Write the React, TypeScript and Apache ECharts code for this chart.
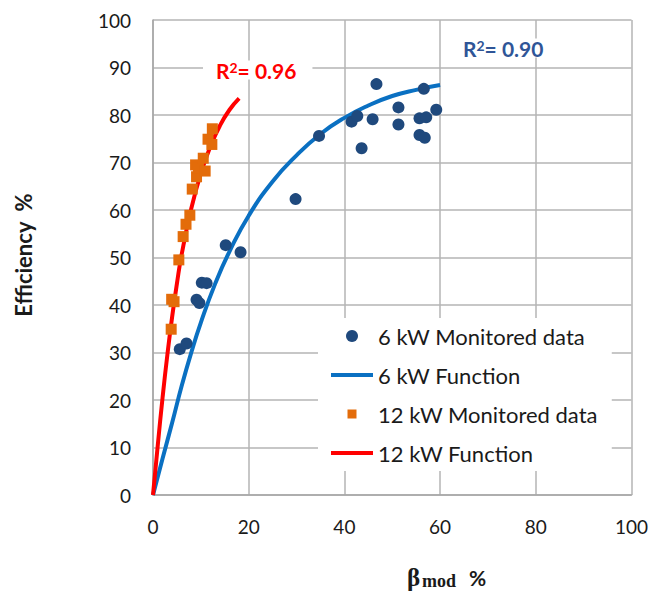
import React, { useEffect, useRef } from "react";
import * as echarts from "echarts";

// 6 kW monitored data
const kw6X = [5.6, 7.0, 9.1, 9.7, 10.2, 11.2, 15.2, 18.3, 29.8, 34.7, 41.5, 42.7, 46.7, 45.9, 43.6, 51.3, 51.3, 56.6, 55.7, 57.1, 59.2, 55.7, 56.8];
const kw6Y = [30.7, 31.9, 41.1, 40.4, 44.7, 44.6, 52.6, 51.1, 62.3, 75.6, 78.6, 79.8, 86.5, 79.1, 73.0, 81.6, 78.0, 85.5, 79.3, 79.5, 81.1, 75.8, 75.2];

// 12 kW monitored data
const kw12X = [3.8, 3.9, 4.4, 5.4, 6.3, 6.9, 7.7, 8.2, 9.1, 8.9, 9.5, 10.9, 10.5, 11.5, 12.3, 12.4];
const kw12Y = [34.9, 41.2, 40.7, 49.5, 54.4, 57.0, 58.9, 64.4, 67.0, 69.5, 68.8, 68.2, 70.9, 74.9, 73.8, 77.1];

// 6 kW function
const fn6X = [0, 2, 4, 6, 8, 10, 13, 16, 20, 25, 30, 35, 40, 45, 50, 55, 60];
const fn6Y = [0, 7.7, 15.2, 23, 30, 36.3, 44.5, 51.3, 58.8, 66, 71.5, 76, 79.4, 82, 84, 85.3, 86.3];

// 12 kW function
const fn12X = [0, 1, 2, 3, 4, 5, 6, 8, 10, 12, 14, 16, 18];
const fn12Y = [0, 10.5, 20.5, 29.5, 37.5, 44.5, 50.7, 60.3, 67.7, 73.4, 77.8, 81.1, 83.5];

const seriesNames = ["6 kW Monitored data", "6 kW Function", "12 kW Monitored data", "12 kW Function"];
const r2Values = ["0.96", "0.90"];
const yTitle = "Efficiency  %";

const zip = (xs: number[], ys: number[]) => xs.map((x, i) => [x, ys[i]]);

export default function App() {
  const ref = useRef<HTMLDivElement>(null);
  useEffect(() => {
    if (!ref.current) return;
    const chart = echarts.init(ref.current, undefined, { renderer: "svg" });
    const font = "Lato, 'Open Sans', sans-serif";
    const gridColor = "#b4b4b4";
    const lineIcon = "path://M0,0M42,12M0,4.1h42v3.8h-42z";
    const r2Text = (v: string, color: string) => ({
      text: `{a|R}{s|2}{a|= ${v}}`,
      rich: {
        a: { fontSize: 21, fontWeight: "bold", fontFamily: font, fill: color, lineHeight: 19 },
        s: { fontSize: 14, fontWeight: "bold", fontFamily: font, fill: color, lineHeight: 9, verticalAlign: "top" },
      },
      backgroundColor: "#ffffff",
      padding: [0, 16, 0, 13],
      align: "left",
      verticalAlign: "middle",
    });
    chart.setOption({
      animation: false,
      backgroundColor: "#ffffff",
      grid: { left: 153, right: 19, top: 20, bottom: 99, containLabel: false },
      xAxis: {
        type: "value",
        min: 0,
        max: 100,
        interval: 20,
        axisLine: { show: true, lineStyle: { color: "#a6a6a6", width: 1.5 } },
        axisTick: { show: false },
        splitLine: { show: true, lineStyle: { color: gridColor, width: 1.5 } },
        axisLabel: { color: "#1a1a1a", fontSize: 19, fontFamily: font, margin: 22 },
      },
      yAxis: {
        type: "value",
        min: 0,
        max: 100,
        interval: 10,
        axisLine: { show: true, lineStyle: { color: "#a6a6a6", width: 1.5 } },
        axisTick: { show: false },
        splitLine: { show: true, lineStyle: { color: gridColor, width: 1.5 } },
        axisLabel: { color: "#1a1a1a", fontSize: 19, fontFamily: font, margin: 22 },
      },
      legend: {
        orient: "vertical",
        left: 318,
        top: 318,
        padding: [7, 14, 7, 13],
        backgroundColor: "#ffffff",
        itemWidth: 42,
        itemHeight: 12,
        itemGap: 17,
        textStyle: { fontSize: 22, fontFamily: font, color: "#1a1a1a", lineHeight: 22 },
        data: [
          { name: seriesNames[0], icon: "circle" },
          { name: seriesNames[1], icon: lineIcon },
          { name: seriesNames[2], icon: "path://M0,0M42,12M16.5,1.5h9v9h-9z" },
          { name: seriesNames[3], icon: lineIcon },
        ],
      },
      series: [
        {
          name: seriesNames[1],
          type: "line",
          data: zip(fn6X, fn6Y),
          smooth: true,
          symbol: "none",
          lineStyle: { color: "#0a70c2", width: 4 },
          itemStyle: { color: "#0a70c2" },
          z: 2,
        },
        {
          name: seriesNames[3],
          type: "line",
          data: zip(fn12X, fn12Y),
          smooth: true,
          symbol: "none",
          lineStyle: { color: "#ff0000", width: 4 },
          itemStyle: { color: "#ff0000" },
          z: 2,
        },
        {
          name: seriesNames[0],
          type: "scatter",
          data: zip(kw6X, kw6Y),
          symbol: "circle",
          symbolSize: 12,
          itemStyle: { color: "#1f497d", opacity: 1 },
          z: 3,
        },
        {
          name: seriesNames[2],
          type: "scatter",
          data: zip(kw12X, kw12Y),
          symbol: "rect",
          symbolSize: 11,
          itemStyle: { color: "#e36c0a", opacity: 1 },
          z: 3,
        },
      ],
      graphic: [
        {
          type: "text",
          x: 23,
          y: 255,
          z: 100,
          rotation: Math.PI / 2,
          style: {
            text: yTitle,
            fontSize: 22,
            fontWeight: "bold",
            fontFamily: font,
            fill: "#1a1a1a",
            align: "center",
            verticalAlign: "middle",
          },
        },
        {
          type: "text",
          x: 407,
          y: 577,
          z: 100,
          style: {
            text: "β",
            fontSize: 25,
            fontWeight: "bold",
            fontFamily: "'Liberation Serif', serif",
            fill: "#1a1a1a",
            align: "left",
            verticalAlign: "middle",
          },
        },
        {
          type: "text",
          x: 422,
          y: 590,
          z: 100,
          style: {
            text: "mod",
            fontSize: 18,
            fontWeight: "bold",
            fontFamily: "'Liberation Serif', serif",
            fill: "#1a1a1a",
            align: "left",
            verticalAlign: "bottom",
          },
        },
        {
          type: "text",
          x: 469,
          y: 577,
          z: 100,
          style: {
            text: "%",
            fontSize: 21,
            fontWeight: "bold",
            fontFamily: font,
            fill: "#1a1a1a",
            align: "left",
            verticalAlign: "middle",
          },
        },
        {
          type: "text",
          x: 203,
          y: 70,
          z: 100,
          style: r2Text(r2Values[0], "#ff0000"),
        },
        {
          type: "text",
          x: 450,
          y: 48,
          z: 100,
          style: r2Text(r2Values[1], "#2f5597"),
        },
      ],
    });
    return () => chart.dispose();
  }, []);
  return (
    <div
      ref={ref}
      style={{ position: "fixed", left: 0, top: 0, width: 651, height: 594, background: "#fff" }}
    />
  );
}
